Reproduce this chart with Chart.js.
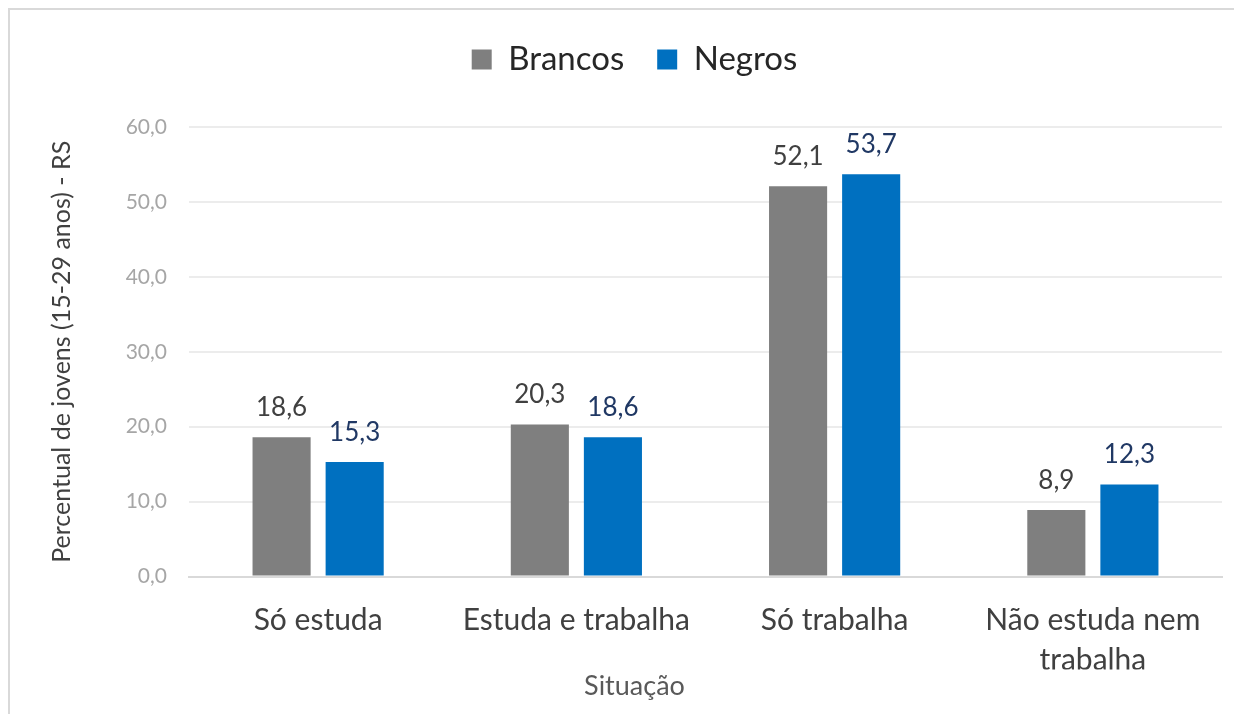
<!DOCTYPE html>
<html>
<head>
<meta charset="utf-8">
<script src="https://cdn.jsdelivr.net/npm/chart.js@4"></script>
<style>
  html, body { margin: 0; padding: 0; background: #fff; overflow: hidden; }
  #moldura { position: absolute; left: 8px; top: 8px; width: 1240px; height: 720px; border: 2px solid #d9d9d9; }
  #wrap { position: absolute; left: 0; top: 0; width: 1234px; height: 714px; }
</style>
</head>
<body>
<div id="moldura"></div>
<div id="wrap"><canvas id="myChart" width="1234" height="714"></canvas></div>
<script>
const situacoes = ["Só estuda", "Estuda e trabalha", "Só trabalha", ["Não estuda nem", "trabalha"]]
const brancos = [18.6, 20.3, 52.1, 8.9]
const negros = [15.3, 18.6, 53.7, 12.3]
const nomesSeries = ["Brancos", "Negros"]
const fonte = "Lato, 'Open Sans', sans-serif"

const virgula = (v) => v.toFixed(1).replace(".", ",")

// rotulos de dados em cima das barras
const rotulos = {
    id: "rotulos",
    afterDatasetsDraw(chart) {
        const ctx = chart.ctx
        ctx.save()
        ctx.font = "26px " + fonte
        ctx.textAlign = "center"
        ctx.textBaseline = "alphabetic"
        chart.data.datasets.forEach((ds, i) => {
            ctx.fillStyle = i === 0 ? "#404040" : "#203864"
            chart.getDatasetMeta(i).data.forEach((bar, j) => {
                ctx.fillText(virgula(ds.data[j]), bar.x, bar.y - 21)
            })
        })
        ctx.restore()
    }
}

const miGraf = document.querySelector("#myChart")
const myChart = new Chart(miGraf, {
    type: "bar",
    data: {
        labels: situacoes,
        datasets: [
            { label: nomesSeries[0], data: brancos, backgroundColor: "#7f7f7f", barPercentage: 0.795, categoryPercentage: 0.566 },
            { label: nomesSeries[1], data: negros, backgroundColor: "#0070c0", barPercentage: 0.795, categoryPercentage: 0.566 }
        ]
    },
    plugins: [rotulos],
    options: {
        responsive: false,
        animation: false,
        layout: { padding: { left: 47, right: 12, top: 10, bottom: 6 } },
        plugins: {
            tooltip: { enabled: false },
            legend: {
                position: "top",
                labels: { font: { family: fonte, size: 33 }, color: "#262626", boxWidth: 20, boxHeight: 20, padding: 33 }
            },
            subtitle: {
                // espaco entre legenda e grafico
                display: true,
                position: "top",
                weight: 500,
                text: " ",
                font: { size: 1, lineHeight: 1 },
                padding: { top: 0, bottom: 40 }
            },
            title: {
                display: true,
                position: "bottom",
                text: "Situação",
                font: { family: fonte, size: 27, weight: "normal" },
                color: "#595959",
                padding: { top: 0, bottom: 6 }
            }
        },
        scales: {
            x: {
                grid: { display: false, drawTicks: false },
                border: { color: "#d9d9d9", width: 2 },
                ticks: { font: { family: fonte, size: 30, lineHeight: 1.33 }, color: "#404040", padding: 24, maxRotation: 0 },
                afterFit(scale) { scale.height = 93 }
            },
            y: {
                min: 0,
                max: 60,
                grid: { color: "#ececec", lineWidth: 2, drawTicks: false },
                border: { display: false },
                ticks: {
                    stepSize: 10,
                    font: { family: fonte, size: 21 },
                    color: "#a6a6a6",
                    padding: 22,
                    callback: (v) => virgula(v)
                },
                title: {
                    display: true,
                    text: "Percentual de jovens (15-29 anos) - RS",
                    font: { family: fonte, size: 25 },
                    color: "#404040",
                    padding: { top: 0, bottom: 0 }
                },
                afterFit(scale) { scale.width = 142 }
            }
        }
    }
})
</script>
</body>
</html>
